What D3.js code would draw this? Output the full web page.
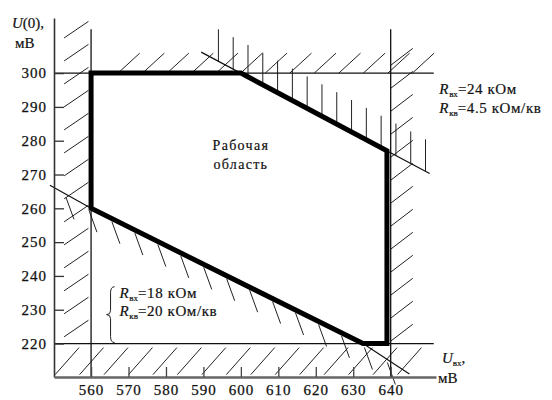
<!DOCTYPE html>
<html>
<head>
<meta charset="utf-8">
<script src="https://cdn.jsdelivr.net/npm/d3@7"></script>
<style>
  body { margin: 0; background: #fff; }
  svg { display: block; }
  .axis text { font-family: "Liberation Serif", serif; font-size: 15px; fill: #111; letter-spacing: 1px; stroke: #111; stroke-width: 0.25px; }
  .lbl { font-family: "Liberation Serif", serif; font-size: 14px; fill: #111; stroke: #111; stroke-width: 0.2px; }
</style>
</head>
<body>
<script>
// tick labels
const xTickValues = [560, 570, 580, 590, 600, 610, 620, 630, 640];
const yTickValues = [220, 230, 240, 250, 260, 270, 280, 290, 300];

// limits of the working region (mV)
const limitLeft = 560, limitRight = 640, limitBottom = 220, limitTop = 300;

// working region outline
const regionU = [560, 600, 639, 639, 632.6, 560];
const regionU0 = [300, 300, 277, 220, 220, 260];

// upper slanted limit (Rвх=24 кОм, Rкв=4.5 кОм/кв)
const upperU = [589.4, 650.4];
const upperU0 = [306.2, 270.3];

// lower slanted limit (Rвх=18 кОм, Rкв=20 кОм/кв)
const lowerU = [549, 560, 632.6, 645];
const lowerU0 = [266.8, 260, 220, 211];

window.onload = function () {

  const W = 552, H = 400;

  const svg = d3.select('body').append('svg')
    .attr('width', W)
    .attr('height', H);

  const x = d3.scaleLinear().domain([550.1, 652.1]).range([54, 436]);
  const y = d3.scaleLinear().domain([210.1, 316.3]).range([377, 18]);

  const upperF = d3.scaleLinear().domain(upperU).range(upperU0);
  const lowerF = d3.scaleLinear().domain(lowerU).range(lowerU0);

  const line = d3.line().x(d => x(d[0])).y(d => y(d[1]));
  const hatch = svg.append('g')
    .attr('stroke', '#222')
    .attr('stroke-width', 1)
    .attr('fill', 'none');

  // left strip
  hatch.selectAll('.hl')
    .data(d3.range(222, 312, 6.8))
    .join('path')
    .attr('d', v => line([[552.8, v], [559.3, v + 4.9]]));

  // top strip
  hatch.selectAll('.ht')
    .data(d3.range(567.2, 650, 6.55))
    .join('path')
    .attr('d', u => line([[u, 300], [u + 5.8, 305.9]]));

  // right strip
  hatch.selectAll('.hr')
    .data(d3.range(220.7, 308, 6.8))
    .join('path')
    .attr('d', v => line([[640, v], [645.9, v + 5]]));

  // bottom strip
  hatch.selectAll('.hb')
    .data(d3.range(550.4, 643, 6.53))
    .join('path')
    .attr('d', u => line([[u, 210.8], [u + 6.4, 218.8]]));

  // ticks hanging on the upper slanted limit
  hatch.selectAll('.hu')
    .data(d3.range(594, 650, 3.95))
    .join('line')
    .attr('x1', u => x(u)).attr('x2', u => x(u))
    .attr('y1', u => y(upperF(u))).attr('y2', u => y(upperF(u)) - 32);

  // ticks under the lower slanted limit
  hatch.selectAll('.hd')
    .data(d3.range(553.3, 643, 6.13))
    .join('line')
    .attr('x1', u => x(u)).attr('x2', u => x(u) + 8)
    .attr('y1', u => y(lowerF(u)) + 3).attr('y2', u => y(lowerF(u)) + 25);

  // slanted limit lines
  svg.append('path')
    .attr('d', line(upperU.map((u, i) => [u, upperU0[i]])))
    .attr('stroke', '#111').attr('stroke-width', 1.2).attr('fill', 'none');
  svg.append('path')
    .attr('d', line(lowerU.map((u, i) => [u, lowerU0[i]])))
    .attr('stroke', '#111').attr('stroke-width', 1.2).attr('fill', 'none');

  // straight limit lines
  const lims = svg.append('g').attr('stroke', '#111').attr('stroke-width', 1.3);
  lims.append('line')
    .attr('x1', x(550.1)).attr('x2', x(651.5))
    .attr('y1', y(limitTop)).attr('y2', y(limitTop));
  lims.append('line')
    .attr('x1', x(550.1)).attr('x2', x(651.5))
    .attr('y1', y(limitBottom)).attr('y2', y(limitBottom));
  lims.append('line')
    .attr('x1', x(limitLeft)).attr('x2', x(limitLeft))
    .attr('y1', y(313)).attr('y2', y(210.1));
  lims.append('line')
    .attr('x1', x(limitRight)).attr('x2', x(limitRight))
    .attr('y1', y(313)).attr('y2', y(210.1));

  // axes
  const yAxis = d3.axisLeft(y)
    .tickValues(yTickValues)
    .tickSize(-10)
    .tickSizeOuter(0)
    .tickPadding(7);
  const gy = svg.append('g')
    .attr('class', 'axis')
    .attr('transform', `translate(${x(550.1)},0)`)
    .call(yAxis);
  gy.select('.domain').attr('stroke', '#333').attr('stroke-width', 1.6);
  gy.selectAll('.tick line').attr('stroke', '#333').attr('stroke-width', 1.3);

  const xAxis = d3.axisBottom(x)
    .tickValues(xTickValues)
    .tickSize(-10)
    .tickSizeOuter(0)
    .tickPadding(7);
  const gx = svg.append('g')
    .attr('class', 'axis')
    .attr('transform', `translate(0,${y(210.1)})`)
    .call(xAxis);
  gx.select('.domain').attr('stroke', '#666').attr('stroke-width', 2.4);
  gx.selectAll('.tick line').attr('stroke', '#444').attr('stroke-width', 1.3);

  // working region
  svg.append('path')
    .attr('d', line(regionU.map((u, i) => [u, regionU0[i]])) + 'Z')
    .attr('stroke', '#000')
    .attr('stroke-width', 5)
    .attr('stroke-linejoin', 'miter')
    .attr('fill', 'none');

  // axis titles
  const t1 = svg.append('text').attr('class', 'lbl').style('font-size', '15px')
    .attr('x', 12).attr('y', 28);
  t1.append('tspan').style('font-style', 'italic').text('U');
  t1.append('tspan').text('(0),');
  svg.append('text').attr('class', 'lbl').style('font-size', '15px')
    .attr('x', 15).attr('y', 48).text('мВ');

  const t2 = svg.append('text').attr('class', 'lbl').style('font-size', '15px')
    .attr('x', 442).attr('y', 363);
  t2.append('tspan').style('font-style', 'italic').text('U');
  t2.append('tspan').attr('dy', 3).style('font-size', '9px').text('вх');
  t2.append('tspan').attr('dy', -3).text(',');
  svg.append('text').attr('class', 'lbl').style('font-size', '15px')
    .attr('x', 438).attr('y', 383).text('мВ');

  // region caption
  svg.append('text').attr('class', 'lbl')
    .attr('x', x(600)).attr('y', y(277.2))
    .attr('text-anchor', 'middle').style('letter-spacing', '1.3px')
    .text('Рабочая');
  svg.append('text').attr('class', 'lbl')
    .attr('x', x(600)).attr('y', y(271.6))
    .attr('text-anchor', 'middle').style('letter-spacing', '1.3px')
    .text('область');

  function rLabel(px, py, sub, rest) {
    const t = svg.append('text').attr('class', 'lbl').attr('x', px).attr('y', py)
      .style('font-size', '15px').style('letter-spacing', '0.6px');
    t.append('tspan').style('font-style', 'italic').text('R');
    t.append('tspan').attr('dy', 3).style('font-size', '9px').style('letter-spacing', '0px').text(sub);
    t.append('tspan').attr('dy', -3).text(rest);
  }

  // upper limit annotation
  rLabel(x(653), y(293.8), 'вх', '=24 кОм');
  rLabel(x(653), y(288.2), 'кв', '=4.5 кОм/кв');

  // lower limit annotation
  rLabel(x(567.6), y(233.6), 'вх', '=18 кОм');
  rLabel(x(567.6), y(228.2), 'кв', '=20 кОм/кв');

  // brace
  const bx = x(565.2), by0 = y(236.8), by1 = y(220.3), bm = (by0 + by1) / 2;
  svg.append('path')
    .attr('d', `M${bx + 4},${by0} Q${bx},${by0} ${bx},${by0 + 6} L${bx},${bm - 4} Q${bx},${bm} ${bx - 4},${bm} Q${bx},${bm} ${bx},${bm + 4} L${bx},${by1 - 6} Q${bx},${by1} ${bx + 4},${by1}`)
    .attr('stroke', '#222').attr('stroke-width', 1).attr('fill', 'none');
};
</script>
</body>
</html>
